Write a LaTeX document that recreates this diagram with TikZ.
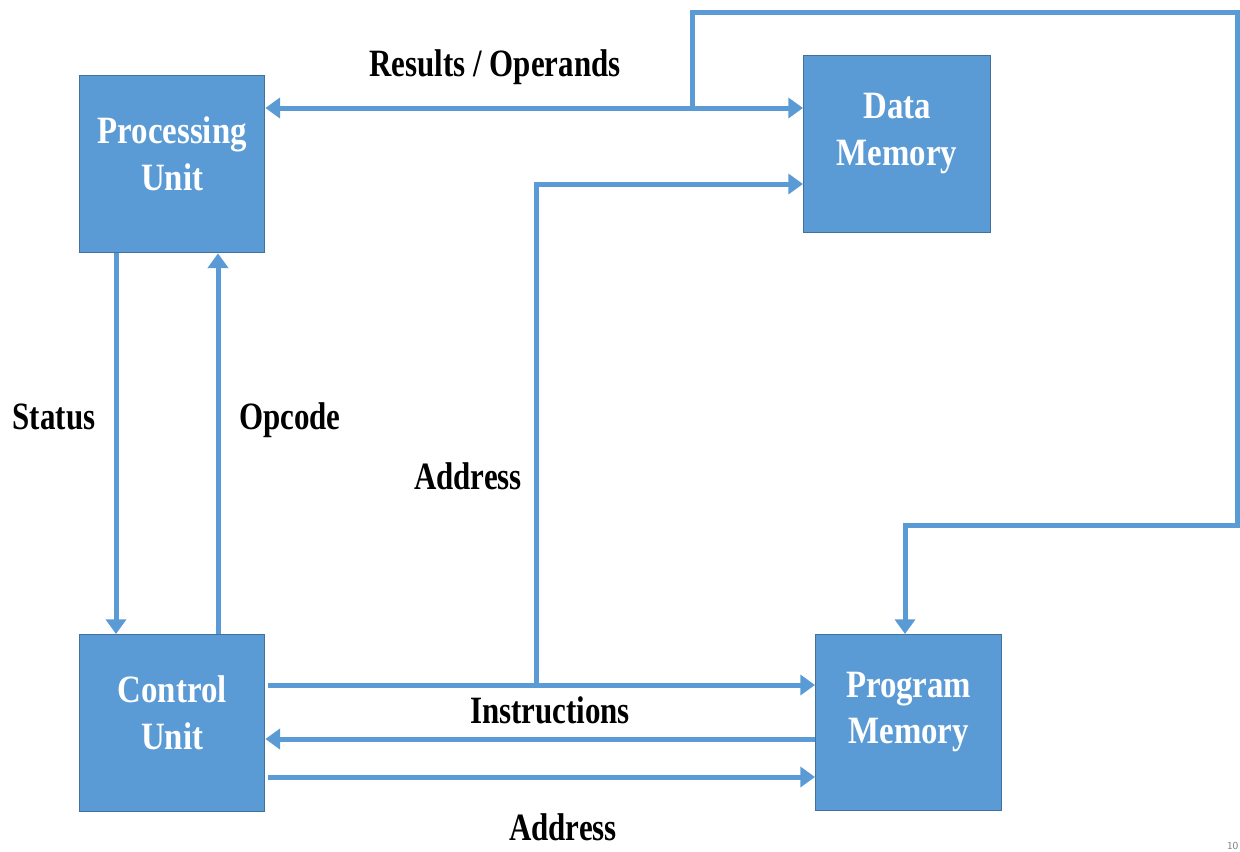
\documentclass[tikz,border=0pt]{standalone}
\usepackage{fontspec}
\usetikzlibrary{arrows.meta}
\newfontfamily\lblfont[FakeStretch=0.8]{Liberation Serif}
\newfontfamily\boxfont[FakeStretch=0.85]{Liberation Serif}
\definecolor{boxblue}{HTML}{5B9BD5}
\definecolor{boxedge}{HTML}{41719C}
\definecolor{lineblue}{HTML}{5B9BD5}
\tikzset{
  box/.style={draw=boxedge, line width=1pt, fill=boxblue, minimum width=138.75pt, minimum height=132.75pt, inner sep=0pt, anchor=north west},
  boxtext/.style={text=white, font=\boxfont\bfseries\fontsize{29}{35}\selectfont, align=center, yshift=8pt},
  lbl/.style={text=black, font=\lblfont\bfseries\fontsize{29}{35}\selectfont, inner sep=0pt},
  conn/.style={draw=lineblue, line width=3.75pt, line join=miter},
  arr/.style={conn, -{Triangle[length=11pt,width=15pt]}},
  darr/.style={conn, {Triangle[length=11pt,width=15pt]}-{Triangle[length=11pt,width=15pt]}}
}
\begin{document}
\begin{tikzpicture}[x=0.75pt,y=-0.75pt]
\useasboundingbox (0,0) rectangle (1240,851);
% boxes
\node[box, label={[boxtext]center:Processing\\Unit}] (pu) at (79,75) {};
\node[box, label={[boxtext]center:Data\\Memory}, minimum width=140.25pt] (dm) at (803,55) {};
\node[box, label={[boxtext]center:Control\\Unit}] (cu) at (79,634) {};
\node[box, label={[boxtext]center:Program\\Memory}, minimum width=139.5pt, minimum height=132pt] (pm) at (815,634) {};
% helper coordinates
\coordinate (yro) at (0,108);
\coordinate (yad) at (0,184);
\coordinate (yi1) at (0,685);
\coordinate (yi2) at (0,739);
\coordinate (yi3) at (0,777);
\coordinate (xst) at (116,0);
\coordinate (xop) at (218,0);
\coordinate (j1) at (692,108);
\coordinate (j2) at (536,685);
\coordinate (c1) at (692,12);
\coordinate (c2) at (1237,12);
\coordinate (c3) at (1237,525);
\coordinate (c4) at (905,525);
\coordinate (c5) at (536,184);
% connectors
\draw[darr] (pu.east |- yro) -- (dm.west |- yro);
\draw[arr] (j1) -- (c1) -- (c2) -- (c3) -- (c4) -- (pm.north -| c4);
\draw[arr] (j2) -- (c5) -- (dm.west |- yad);
\draw[arr] (pu.south -| xst) -- (cu.north -| xst);
\draw[arr] (cu.north -| xop) -- (pu.south -| xop);
\draw[arr, shorten <=2pt] (cu.east |- yi1) -- (pm.west |- yi1);
\draw[arr] (pm.west |- yi2) -- (cu.east |- yi2);
\draw[arr, shorten <=2pt] (cu.east |- yi3) -- (pm.west |- yi3);
% labels
\node[lbl] (tro) at (495,67) {Results / Operands};
\node[lbl] (tst) at (54,417) {Status};
\node[lbl] (top) at (290,420) {Opcode};
\node[lbl] (tad) at (468,476) {Address};
\node[lbl] (tin) at (550,710) {Instructions};
\node[lbl] (tad2) at (563,827) {Address};
\node[text=gray, font=\sffamily\fontsize{8}{9}\selectfont, anchor=south east, inner sep=1pt] (pg) at (1240,851) {10};
\end{tikzpicture}
\end{document}
